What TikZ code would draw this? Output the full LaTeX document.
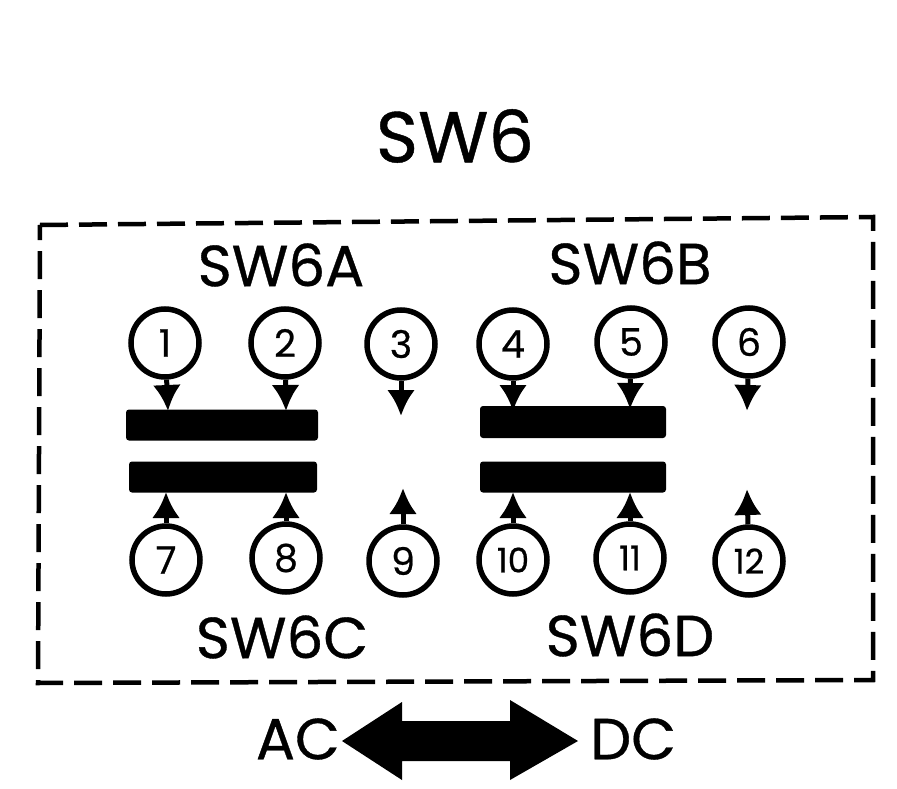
\documentclass[tikz,border=0pt]{standalone}
\usepackage{fontspec}
\setmainfont{Poppins}[FakeBold=0.6,AutoFakeBold=0.6]
\usetikzlibrary{arrows.meta}
\tikzset{
 term/.style={circle,draw=black,line width=5.5pt,minimum size=68pt,inner sep=0pt,font=\fontsize{38}{38}\selectfont\bfseries},
 termsm/.style={term,font=\fontsize{34}{34}\selectfont\bfseries},
 lab/.style={font=\fontsize{58}{58}\selectfont\bfseries,inner sep=0pt},
 ttl/.style={font=\fontsize{72}{72}\selectfont\bfseries,inner sep=0pt},
 bar/.style={fill=black,rounded corners=3pt,draw=none,inner sep=0pt},
 cont/.style={line width=5pt,-{Latex[length=26pt,width=28pt]}},
 bigarrow/.style={fill=black,draw=none}
}
\begin{document}
\begin{tikzpicture}[x=1pt,y=-1pt,every node/.style={}]
\useasboundingbox (0,0) rectangle (897,789);
\node[ttl] (title) at (455,136) {SW6};
\coordinate (bl) at (38,683);\coordinate (tl) at (40,225);\coordinate (tr) at (873,217);\coordinate (br) at (873,680);
\draw[line width=4.5pt,dash pattern=on 28pt off 11pt] (tl)--(tr)--(br)--(bl)--cycle;
\node[lab] (a) at (281,265) {SW6A};
\node[lab] (b) at (630,263) {SW6B};
\node[lab] (c) at (282,637) {SW6C};
\node[lab] (d) at (630,635) {SW6D};
\node[bar,minimum width=192pt,minimum height=31pt] (b1) at (222,425) {};
\node[bar,minimum width=188pt,minimum height=31pt] (b2) at (223,477) {};
\node[bar,minimum width=186pt,minimum height=32pt] (b3) at (573,422) {};
\node[bar,minimum width=186pt,minimum height=31pt] (b4) at (573,477) {};
\node[term] (n1) at (165,343) {1};
\node[term] (n2) at (285,343) {2};
\node[term] (n3) at (401,344) {3};
\node[term] (n4) at (513,344) {4};
\node[term] (n5) at (631,342) {5};
\node[term] (n6) at (749,342) {6};
\node[term] (n7) at (166,560) {7};
\node[term] (n8) at (286,558) {8};
\node[term] (n9) at (403,561) {9};
\node[termsm] (n10) at (513,560) {10};
\node[termsm] (n11) at (630,558) {11};
\node[termsm] (n12) at (749,561) {12};
\coordinate (e3) at (401,416);\coordinate (e6) at (747,411);\coordinate (e9) at (403,488);\coordinate (e12) at (747,489);
\coordinate (e1) at (168,411);\coordinate (e2) at (286,411);\coordinate (e4) at (513,411);\coordinate (e5) at (630,409);
\coordinate (e7) at (166,492);\coordinate (e8) at (286,492);\coordinate (e10) at (513,492);\coordinate (e11) at (630,492);
\draw[cont] (n1)--(e1);\draw[cont] (n2)--(e2);\draw[cont] (n3)--(e3);\draw[cont] (n4)--(e4);\draw[cont] (n5)--(e5);\draw[cont] (n6)--(e6);
\draw[cont] (n7)--(e7);\draw[cont] (n8)--(e8);\draw[cont] (n9)--(e9);\draw[cont] (n10)--(e10);\draw[cont] (n11)--(e11);\draw[cont] (n12)--(e12);
\node[lab,anchor=east] (ac) at (340,739) {AC};
\node[lab,anchor=west] (dc) at (590,739) {DC};
\fill[bigarrow] (342,741)--(402,702)--(402,721)--(510,721)--(510,700)--(578,741)--(510,780)--(510,761)--(402,761)--(402,780)--cycle;
\end{tikzpicture}
\end{document}
